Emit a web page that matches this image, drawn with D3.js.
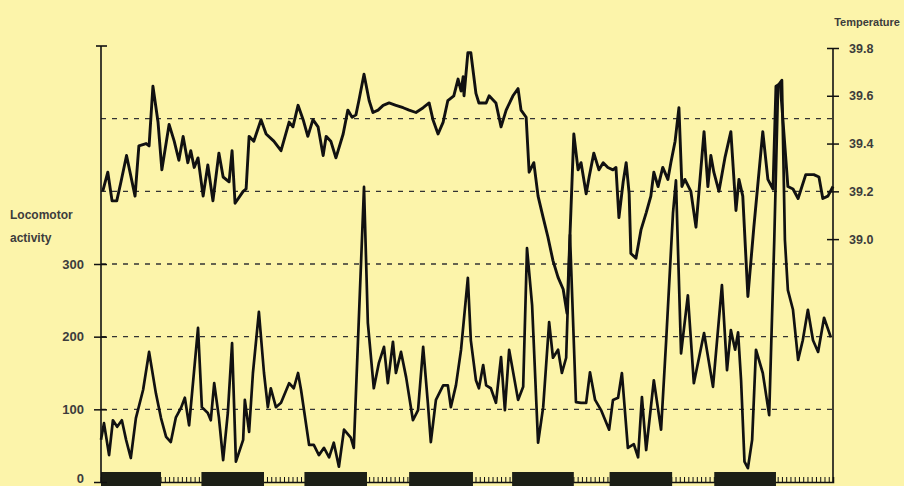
<!DOCTYPE html>
<html><head><meta charset="utf-8">
<script src="https://cdn.jsdelivr.net/npm/d3@7"></script>
<style>
html,body{margin:0;padding:0;background:#fcf4aa;}
svg{display:block;}
text{font-family:"Liberation Sans",Arial,sans-serif;}
</style></head>
<body>
<svg id="chart" width="904" height="486"></svg>
<script>
// ---- data ----
// temperature series: hour, °C
const tempHours = [0.4,1.6,2.6,3.7,4.7,6.0,8.0,8.9,10.6,11.3,12.2,13.4,14.3,16.0,17.2,18.3,19.3,20.4,21.1,21.9,22.8,24.0,25.1,26.3,27.7,28.7,30.1,30.8,31.5,33.4,34.1,34.8,35.9,37.6,38.8,40.6,42.3,44.2,45.1,46.3,47.5,48.6,49.8,51.0,52.2,52.9,54.0,55.2,56.9,58.0,59.0,59.9,60.6,61.8,63.0,63.9,65.1,66.3,67.7,69.3,71.0,72.4,74.0,75.7,77.1,78.0,79.2,80.4,81.5,82.9,83.9,84.6,85.1,85.3,86.2,86.9,88.1,88.8,90.5,91.2,92.8,94.0,95.2,96.8,98.0,98.7,99.9,100.6,101.7,102.7,103.9,105.0,106.2,107.4,108.6,109.5,111.1,112.1,112.8,114.0,114.7,115.8,117.0,118.0,119.1,120.3,121.0,121.7,122.7,123.4,124.1,124.5,125.7,126.9,128.1,129.2,129.9,130.9,132.0,133.2,133.9,134.9,135.8,136.5,137.2,138.6,139.8,141.7,142.6,143.3,144.0,145.2,146.6,148.0,149.2,149.9,150.8,152.0,153.4,155.5,156.7,157.9,158.6,159.6,161.4,162.6,163.8,165.6,167.5,168.7,169.6,170.8,172.0];
const tempValues = [39.20,39.28,39.16,39.16,39.24,39.35,39.18,39.39,39.40,39.39,39.64,39.49,39.29,39.48,39.41,39.33,39.43,39.32,39.37,39.30,39.34,39.18,39.31,39.16,39.36,39.26,39.24,39.37,39.15,39.20,39.21,39.43,39.41,39.50,39.44,39.41,39.37,39.49,39.47,39.56,39.50,39.43,39.50,39.47,39.35,39.43,39.41,39.34,39.44,39.54,39.51,39.52,39.58,39.69,39.58,39.53,39.54,39.56,39.57,39.56,39.55,39.54,39.53,39.55,39.57,39.50,39.44,39.49,39.58,39.60,39.67,39.62,39.68,39.60,39.78,39.78,39.61,39.57,39.57,39.60,39.57,39.47,39.54,39.60,39.63,39.54,39.51,39.28,39.32,39.18,39.09,39.01,38.91,38.84,38.79,38.69,39.44,39.29,39.32,39.19,39.26,39.36,39.29,39.32,39.30,39.29,39.30,39.09,39.24,39.32,39.19,38.94,38.92,39.04,39.11,39.18,39.28,39.22,39.30,39.25,39.32,39.41,39.55,39.22,39.25,39.20,39.05,39.45,39.22,39.35,39.28,39.20,39.34,39.45,39.12,39.25,39.18,38.76,39.05,39.45,39.25,39.21,39.64,39.65,39.22,39.21,39.17,39.27,39.27,39.26,39.17,39.18,39.22];

// locomotor activity series: hour, counts
const actHours = [0.0,0.7,1.9,2.8,3.8,4.9,5.9,7.0,8.2,9.9,11.3,12.9,14.1,15.3,16.4,17.6,18.8,19.7,20.7,22.8,23.7,25.1,25.8,26.6,27.7,28.7,29.8,30.8,31.7,33.4,33.8,34.8,35.7,37.1,38.3,39.2,39.9,41.1,42.3,44.2,45.3,46.3,47.0,48.9,50.0,51.2,52.4,53.6,54.7,55.9,57.1,58.7,59.4,61.8,62.7,64.1,65.3,66.5,67.4,68.6,69.3,70.5,71.7,73.3,74.5,75.7,76.8,77.5,78.7,80.4,81.5,82.2,83.4,84.6,86.2,86.9,88.1,88.8,89.8,90.5,91.6,92.8,94.0,94.9,95.9,98.0,99.2,100.1,101.3,102.7,103.9,105.3,106.2,107.4,108.3,109.3,110.2,111.6,112.8,114.0,114.9,116.1,117.5,119.4,120.3,121.5,122.4,123.8,125.2,126.2,127.1,128.1,129.9,131.6,132.8,134.4,135.1,136.3,137.9,139.3,141.7,143.8,145.9,147.1,148.0,149.0,149.7,150.4,151.2,152.0,153.0,153.9,155.5,157.0,158.2,159.1,160.0,160.7,161.4,162.6,163.8,164.9,166.1,167.3,168.5,169.9,171.5];
const actValues = [58,81,37,85,76,85,58,33,88,127,179,122,88,62,55,89,102,116,78,212,103,95,85,136,89,30,95,191,28,58,113,69,150,234,150,103,129,103,109,136,129,150,127,51,51,37,47,34,54,21,72,61,47,406,219,129,164,186,136,193,150,179,144,85,99,186,109,55,113,133,133,103,133,182,281,195,140,129,161,133,129,109,172,99,182,113,131,322,243,54,103,220,171,182,150,171,340,110,109,109,151,113,99,72,113,116,150,47,52,34,117,44,140,72,195,370,415,177,257,136,205,131,271,154,209,182,206,140,28,19,58,182,150,92,333,546,553,333,264,237,168,195,237,195,179,226,199];

// dark periods (hours)
const darkStart = [0, 23.6, 47.8, 72.4, 96.6, 119.5, 144.1];
const darkEnd   = [14.1, 38.3, 62.5, 87.4, 111.1, 134.2, 158.6];

// axis ticks
const actTicks = [0, 100, 200, 300];
const gridValues = [100, 200, 300, 400, 500];
const tempTicks = [39.0, 39.2, 39.4, 39.6, 39.8];

// ---- drawing ----
const svg = d3.select("#chart");
const x = d3.scaleLinear().domain([0, 172]).range([101, 833]);
const yA = d3.scaleLinear().domain([0, 600]).range([482, 46]);
const yT = d3.scaleLinear().domain([38, 39.8]).range([478, 48]);
const ink = "#111";
const txt = "#3c3c3c";

// gridlines
svg.append("g").selectAll("line").data(gridValues).join("line")
  .attr("x1", x(0)).attr("x2", x(172))
  .attr("y1", d => yA(d)).attr("y2", d => yA(d))
  .attr("stroke", "#333").attr("stroke-width", 1.4)
  .attr("stroke-dasharray", "5,6");

// bottom axis with hourly ticks
const xAxis = svg.append("g").attr("transform", `translate(0,${yA(0)})`)
  .call(d3.axisBottom(x).tickValues(d3.range(0, 172, 1)).tickSize(-5).tickFormat(""));
xAxis.select(".domain").attr("stroke", ink).attr("stroke-width", 1.5);
xAxis.selectAll(".tick line").attr("stroke", ink).attr("stroke-width", 1);

// dark bars
svg.append("g").selectAll("rect").data(darkStart).join("rect")
  .attr("x", (d) => x(d)).attr("width", (d, i) => x(darkEnd[i]) - x(d))
  .attr("y", 472).attr("height", 20)
  .attr("fill", "#1c1f16");

// left axis
const left = svg.append("g").attr("transform", `translate(${x(0)},0)`)
  .call(d3.axisLeft(yA).tickValues(actTicks).tickSize(7).tickPadding(10));
left.select(".domain").remove();
left.selectAll(".tick line").attr("x2", -7).attr("x1", 6).attr("stroke", ink).attr("stroke-width", 1.5);
left.selectAll(".tick text").attr("fill", txt).attr("font-size", 13).attr("font-weight", "bold")
  .attr("font-family", "Liberation Sans, Arial, sans-serif")
  .attr("dy", d => d === 0 ? "0.05em" : "0.32em");
left.append("line").attr("x1", 0).attr("x2", 0).attr("y1", yA(600)).attr("y2", yA(0))
  .attr("stroke", ink).attr("stroke-width", 1.6);
left.append("line").attr("x1", -5).attr("x2", 6).attr("y1", yA(600)).attr("y2", yA(600))
  .attr("stroke", ink).attr("stroke-width", 1.6);

// right axis
const right = svg.append("g").attr("transform", `translate(${x(172)},0)`)
  .call(d3.axisRight(yT).tickValues(tempTicks).tickFormat(d3.format(".1f")).tickSize(7).tickPadding(9));
right.select(".domain").remove();
right.selectAll(".tick line").attr("x1", -6).attr("x2", 6).attr("stroke", ink).attr("stroke-width", 1.5);
right.selectAll(".tick text").attr("fill", txt).attr("font-size", 12.5).attr("font-weight", "bold")
  .attr("font-family", "Liberation Sans, Arial, sans-serif");
right.append("line").attr("x1", 0).attr("x2", 0).attr("y1", yT(39.8)).attr("y2", yA(0))
  .attr("stroke", ink).attr("stroke-width", 1.6);

// lines
const tempData = tempHours.map((h, i) => [h, tempValues[i]]);
const actData = actHours.map((h, i) => [h, actValues[i]]);
svg.append("path").datum(actData)
  .attr("d", d3.line().x(d => x(d[0])).y(d => yA(d[1])))
  .attr("fill", "none").attr("stroke", ink).attr("stroke-width", 2.7)
  .attr("stroke-linejoin", "round");
svg.append("path").datum(tempData)
  .attr("d", d3.line().x(d => x(d[0])).y(d => yT(d[1])))
  .attr("fill", "none").attr("stroke", ink).attr("stroke-width", 2.9)
  .attr("stroke-linejoin", "round");

// labels
svg.append("text").attr("x", 10).attr("y", 219).attr("fill", txt)
  .attr("font-size", 12).attr("font-weight", "bold").text("Locomotor");
svg.append("text").attr("x", 10).attr("y", 242).attr("fill", txt)
  .attr("font-size", 12).attr("font-weight", "bold").text("activity");
svg.append("text").attr("x", 900).attr("y", 26).attr("fill", txt).attr("text-anchor", "end")
  .attr("font-size", 11).attr("font-weight", "bold").text("Temperature");
</script>
</body></html>
